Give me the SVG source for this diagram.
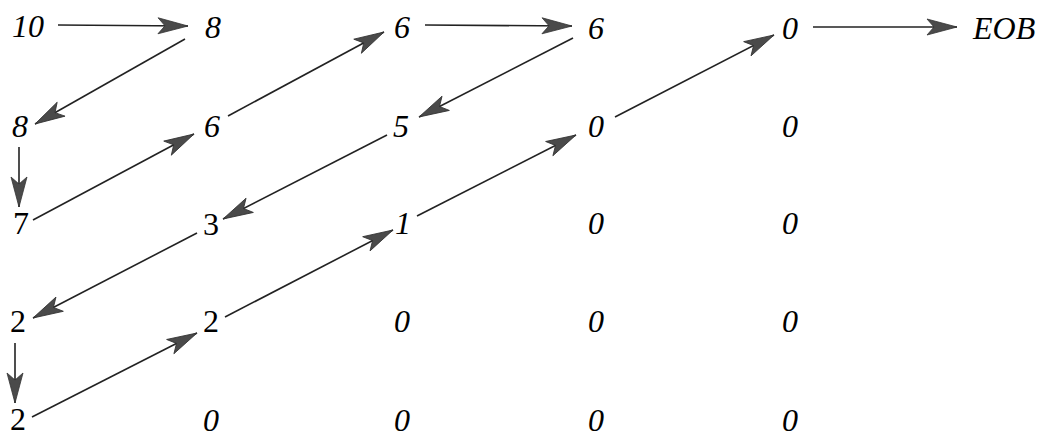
<svg xmlns="http://www.w3.org/2000/svg" width="1041" height="438" viewBox="0 0 1041 438">
<style>
svg text{font-family:"Liberation Serif","Times New Roman",serif !important;font-size:32px}
.it{font-style:italic}
</style>
<defs>
<marker id="ah" markerUnits="userSpaceOnUse" viewBox="-32 -10 34 20" refX="0" refY="0" markerWidth="34" markerHeight="20" orient="auto">
<path d="M0,0 L-30,-8 L-23,0 L-30,8 Z" fill="#4a4a4a" stroke="#333" stroke-width="0.8"/>
</marker>
</defs>
<rect width="1041" height="438" fill="#fff"/>
<g id="n00"><text class="it" font-family="Liberation Serif" x="12" y="37">10</text></g>
<g id="n01"><text class="it" font-family="Liberation Serif" x="205" y="38">8</text></g>
<g id="n02"><text class="it" font-family="Liberation Serif" x="394" y="38">6</text></g>
<g id="n03"><text class="it" font-family="Liberation Serif" x="588" y="39">6</text></g>
<g id="n04"><text class="it" font-family="Liberation Serif" x="782" y="39">0</text></g>
<g id="neob"><text class="it" font-family="Liberation Serif" x="973" y="39">EOB</text></g>
<g id="n10"><text class="it" font-family="Liberation Serif" x="12" y="137">8</text></g>
<g id="n11"><text class="it" font-family="Liberation Serif" x="204" y="137">6</text></g>
<g id="n12"><text class="it" font-family="Liberation Serif" x="393" y="137">5</text></g>
<g id="n13"><text class="it" font-family="Liberation Serif" x="588" y="137">0</text></g>
<g id="n14"><text class="it" font-family="Liberation Serif" x="782" y="137">0</text></g>
<g id="n20"><text font-family="Liberation Serif" x="13" y="234">7</text></g>
<g id="n21"><text font-family="Liberation Serif" x="203" y="235">3</text></g>
<g id="n22"><text class="it" font-family="Liberation Serif" x="395" y="234">1</text></g>
<g id="n23"><text class="it" font-family="Liberation Serif" x="588" y="234">0</text></g>
<g id="n24"><text class="it" font-family="Liberation Serif" x="782" y="234">0</text></g>
<g id="n30"><text font-family="Liberation Serif" x="10" y="332">2</text></g>
<g id="n31"><text font-family="Liberation Serif" x="203" y="332">2</text></g>
<g id="n32"><text class="it" font-family="Liberation Serif" x="394" y="332">0</text></g>
<g id="n33"><text class="it" font-family="Liberation Serif" x="588" y="332">0</text></g>
<g id="n34"><text class="it" font-family="Liberation Serif" x="782" y="332">0</text></g>
<g id="n40"><text font-family="Liberation Serif" x="10" y="430">2</text></g>
<g id="n41"><text class="it" font-family="Liberation Serif" x="203" y="431">0</text></g>
<g id="n42"><text class="it" font-family="Liberation Serif" x="394" y="431">0</text></g>
<g id="n43"><text class="it" font-family="Liberation Serif" x="588" y="431">0</text></g>
<g id="n44"><text class="it" font-family="Liberation Serif" x="782" y="431">0</text></g>
<g id="connectors" fill="none" stroke="#222" stroke-width="1.6">
<path marker-end="url(#ah)" d="M58,25 L188,26"/>
<path marker-end="url(#ah)" d="M185,39 L35,124"/>
<path marker-end="url(#ah)" d="M19,147 L19,207"/>
<path marker-end="url(#ah)" d="M33,220 L194,134"/>
<path marker-end="url(#ah)" d="M228,116 L384,32"/>
<path marker-end="url(#ah)" d="M425,25 L572,26"/>
<path marker-end="url(#ah)" d="M573,38 L419,117"/>
<path marker-end="url(#ah)" d="M387,135 L223,219"/>
<path marker-end="url(#ah)" d="M197,233 L33,318"/>
<path marker-end="url(#ah)" d="M15,343 L15,403"/>
<path marker-end="url(#ah)" d="M32,417 L197,333"/>
<path marker-end="url(#ah)" d="M225,317 L393,230"/>
<path marker-end="url(#ah)" d="M417,216 L576,135"/>
<path marker-end="url(#ah)" d="M615,117 L774,35"/>
<path marker-end="url(#ah)" d="M813,27 L957,27"/>
</g>
</svg>
